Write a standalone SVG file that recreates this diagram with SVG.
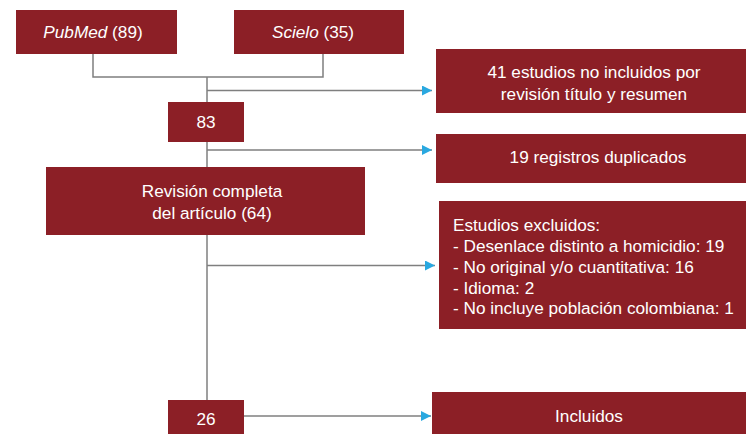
<svg xmlns="http://www.w3.org/2000/svg" width="746" height="434" viewBox="0 0 746 434">
<defs>
<style>
.box{fill:#8c1f26}
.t{font-family:"Liberation Sans",Arial,sans-serif;font-size:17.2px;fill:#ffffff}
.c{text-anchor:middle}
.ln{stroke:#7f7f7f;stroke-width:1.5;fill:none}
</style>
<marker id="ah" viewBox="0 0 10 10" refX="10" refY="5" markerWidth="10" markerHeight="10" markerUnits="userSpaceOnUse" orient="auto">
<path d="M0,0 L10,5 L0,10 Z" fill="#29a8e0"/>
</marker>
</defs>
<g id="connectors">
<path class="ln" d="M93,54 V77 H323 V54"/>
<path class="ln" d="M207,77 V400"/>
<path class="ln" d="M207,90.5 H432" marker-end="url(#ah)"/>
<path class="ln" d="M207,150 H432" marker-end="url(#ah)"/>
<path class="ln" d="M207,265.5 H435" marker-end="url(#ah)"/>
<path class="ln" d="M244,416 H431" marker-end="url(#ah)"/>
</g>
<g id="pubmed">
<rect class="box" x="16" y="10" width="161" height="44"/>
<text class="t c" x="93" y="38"><tspan font-style="italic">PubMed</tspan> (89)</text>
</g>
<g id="scielo">
<rect class="box" x="234" y="10" width="170" height="44"/>
<text class="t c" x="313" y="38"><tspan font-style="italic">Scielo</tspan> (35)</text>
</g>
<g id="n83">
<rect class="box" x="168" y="102" width="76" height="40"/>
<text class="t c" x="206" y="128">83</text>
</g>
<g id="no-incluidos">
<rect class="box" x="436" y="49" width="310" height="64"/>
<text class="t c" x="594" y="78">41 estudios no incluidos por</text>
<text class="t c" x="594" y="100">revisión título y resumen</text>
</g>
<g id="duplicados">
<rect class="box" x="436" y="134" width="310" height="49"/>
<text class="t c" x="598" y="163">19 registros duplicados</text>
</g>
<g id="revision">
<rect class="box" x="46" y="167" width="319" height="68"/>
<text class="t c" x="212" y="197">Revisión completa</text>
<text class="t c" x="212" y="219">del artículo (64)</text>
</g>
<g id="excluidos">
<rect class="box" x="439" y="201" width="307" height="128"/>
<text class="t" x="453" y="231">Estudios excluidos:</text>
<text class="t" x="453" y="252">- Desenlace distinto a homicidio: 19</text>
<text class="t" x="453" y="273">- No original y/o cuantitativa: 16</text>
<text class="t" x="453" y="294">- Idioma: 2</text>
<text class="t" x="453" y="314">- No incluye población colombiana: 1</text>
</g>
<g id="n26">
<rect class="box" x="168" y="400" width="76" height="34"/>
<text class="t c" x="206" y="425">26</text>
</g>
<g id="incluidos">
<rect class="box" x="432" y="392" width="314" height="42"/>
<text class="t c" x="589" y="422">Incluidos</text>
</g>
</svg>
